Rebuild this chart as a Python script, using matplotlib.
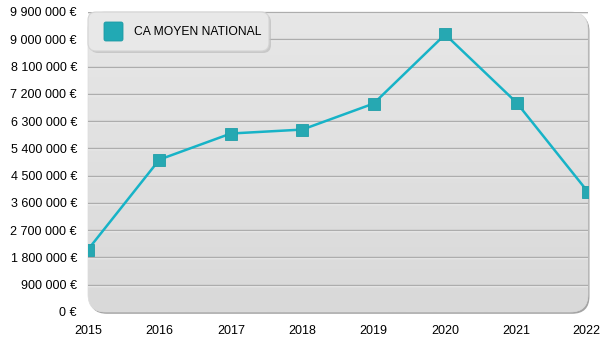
import matplotlib
matplotlib.use("Agg")
import matplotlib.pyplot as plt
import matplotlib.transforms as mtransforms
import numpy as np
from matplotlib.patches import FancyBboxPatch
from matplotlib.ticker import FuncFormatter

plt.rcParams["font.family"] = ["Liberation Sans", "DejaVu Sans"]

years = [2015, 2016, 2017, 2018, 2019, 2020, 2021, 2022]
ca_moyen = [2060000, 5030000, 5890000, 6020000, 6880000, 9160000, 6910000, 3960000]
series_label = "CA MOYEN NATIONAL"
y_ticks = np.arange(0, 9900001, 900000)

LINE = "#17b3c7"
MARKER = "#26a8b2"


def euro(v, _pos=None):
    s = f"{int(v):,}".replace(",", " ")
    return f"{s} €"


fig = plt.figure(figsize=(6, 3.5), dpi=100)
ax = fig.add_axes([88 / 600, 38 / 350, 500 / 600, 300 / 350])
ax.patch.set_visible(False)
for sp in ax.spines.values():
    sp.set_visible(False)

# rounded panel with a soft grey gradient and a thin drop edge
shadow = FancyBboxPatch((0.003, -0.006), 1.0, 1.0, transform=ax.transAxes,
                        boxstyle="round,pad=0,rounding_size=0.035",
                        mutation_aspect=500 / 300,
                        fc="#a4a4a4", ec="none", zorder=0, clip_on=False)
ax.add_patch(shadow)
panel = FancyBboxPatch((0, 0), 1.0, 1.0, transform=ax.transAxes,
                       boxstyle="round,pad=0,rounding_size=0.035",
                       mutation_aspect=500 / 300,
                       fc="none", ec="#dcdcdc", lw=0.5, zorder=1, clip_on=False)
ax.add_patch(panel)
grad = np.linspace(0, 1, 256).reshape(-1, 1)
bg_cmap = matplotlib.colors.LinearSegmentedColormap.from_list(
    "bg", ["#e7e7e7", "#d9d9d9"])
img = ax.imshow(grad, cmap=bg_cmap, aspect="auto",
                extent=[years[0], years[-1], 0, 9900000], zorder=0.5,
                origin="upper")
img.set_clip_path(panel)
ax.set_xlim(years[0], years[-1])
ax.set_ylim(0, 9900000)

# gridlines: grey rule with a light highlight under it
px = 9900000 / 300
for t in y_ticks[1:]:
    ax.axhline(t - px, color="#f2f2f2", lw=1.0, zorder=1.5)
    ax.axhline(t, color="#adadad", lw=1.0, zorder=1.6)

ax.plot(years, ca_moyen, color=LINE, lw=1.8, zorder=3)
ax.plot(years, ca_moyen, ls="none", marker="s", ms=8.5, mfc=MARKER,
        mec="#1f9ea8", mew=0.6, zorder=4)

ax.set_yticks(y_ticks)
ax.yaxis.set_major_formatter(FuncFormatter(euro))
ax.set_xticks(years)
ax.tick_params(length=0, labelsize=9, colors="#000000")
ax.tick_params(axis="y", pad=8)
ax.tick_params(axis="x", pad=9)

# nudge the last year label so it stays inside the figure
last = ax.get_xticklabels()[-1]
last.set_transform(last.get_transform() +
                   mtransforms.ScaledTranslation(-2 / 100, 0, fig.dpi_scale_trans))

# legend box
leg_ax = fig.add_axes([0, 0, 1, 1], facecolor="none")
leg_ax.set_xlim(0, 600)
leg_ax.set_ylim(350, 0)
leg_ax.axis("off")
leg_ax.add_patch(FancyBboxPatch((90, 14), 181, 39,
                                boxstyle="round,pad=0,rounding_size=8",
                                fc="#bdbdbd", ec="none", alpha=0.7))
leg_ax.add_patch(FancyBboxPatch((88, 12), 181, 39,
                                boxstyle="round,pad=0,rounding_size=8",
                                fc="#e8e8e8", ec="#d4d4d4", lw=0.8))
leg_ax.add_patch(FancyBboxPatch((104, 22), 19, 19,
                                boxstyle="round,pad=0,rounding_size=2",
                                fc="#22a9b4", ec="#1c9aa5", lw=0.6))
leg_ax.text(134, 32, series_label, fontsize=8.7, va="center", ha="left")

fig.savefig("out.png", dpi=100)
